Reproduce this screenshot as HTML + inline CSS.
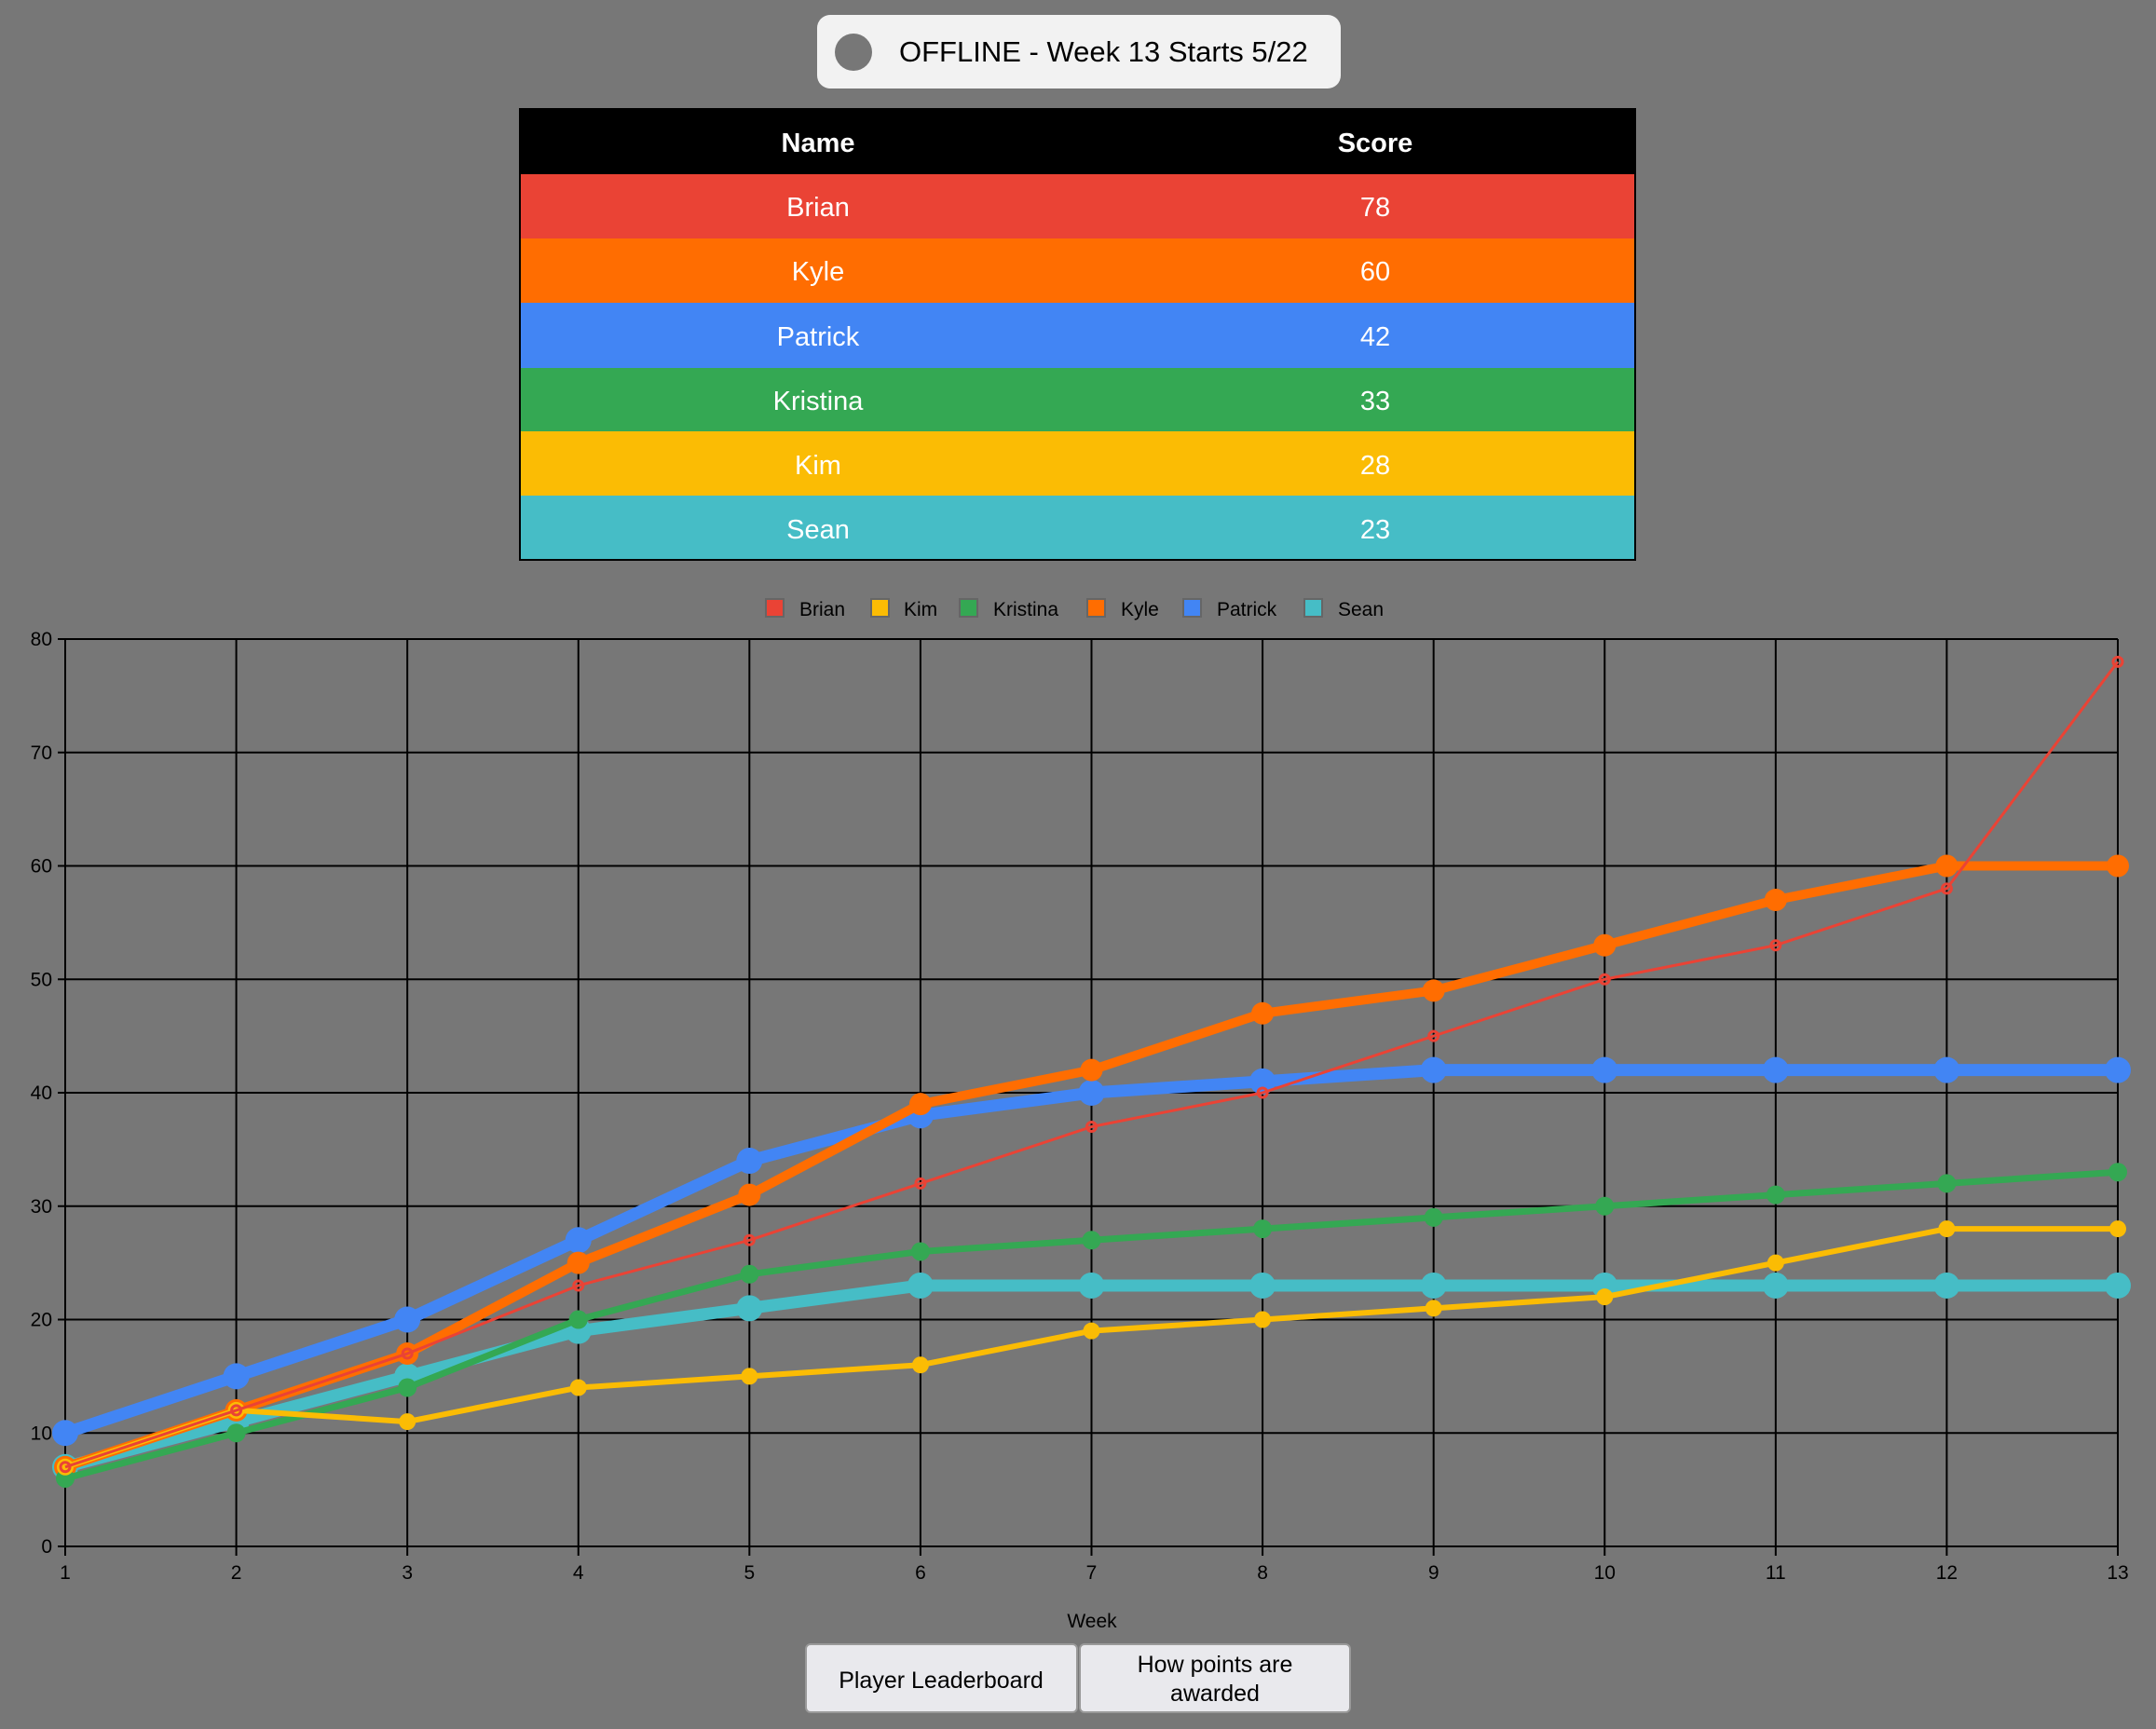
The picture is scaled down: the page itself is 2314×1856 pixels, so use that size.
<!DOCTYPE html>
<html><head><meta charset="utf-8"><style>
html,body{margin:0;padding:0;background:#777;width:2314px;height:1856px;overflow:hidden;font-family:"Liberation Sans",Arial,sans-serif}
</style></head><body>
<svg width="2314" height="1856" viewBox="0 0 2314 1856" xmlns="http://www.w3.org/2000/svg" font-family="Liberation Sans, Arial, sans-serif">
<rect width="2314" height="1856" fill="#777"/>
<rect x="877" y="16" width="562" height="79" rx="14" fill="#f2f2f2"/>
<circle cx="916" cy="56" r="20" fill="#777"/>
<text x="965" y="66" font-size="31" fill="#000">OFFLINE - Week 13 Starts 5/22</text>
<rect x="557" y="116" width="1199" height="486" fill="#000"/>
<rect x="559" y="187" width="1195" height="69" fill="#ea4335"/>
<rect x="559" y="256" width="1195" height="69" fill="#ff6d01"/>
<rect x="559" y="325" width="1195" height="70" fill="#4285f4"/>
<rect x="559" y="395" width="1195" height="68" fill="#34a853"/>
<rect x="559" y="463" width="1195" height="69" fill="#fbbc04"/>
<rect x="559" y="532" width="1195" height="68" fill="#46bdc6"/>
<g fill="#fff" font-size="29" text-anchor="middle">
<text x="878" y="163" font-weight="bold">Name</text><text x="1476" y="163" font-weight="bold">Score</text>
<text x="878" y="232">Brian</text><text x="1476" y="232">78</text>
<text x="878" y="301">Kyle</text><text x="1476" y="301">60</text>
<text x="878" y="371">Patrick</text><text x="1476" y="371">42</text>
<text x="878" y="440">Kristina</text><text x="1476" y="440">33</text>
<text x="878" y="509">Kim</text><text x="1476" y="509">28</text>
<text x="878" y="578">Sean</text><text x="1476" y="578">23</text>
</g>
<g font-size="21" fill="#000">
<rect x="822" y="643" width="19" height="19" fill="#ea4335" stroke="#666" stroke-width="2"/><text x="858" y="661">Brian</text>
<rect x="935" y="643" width="19" height="19" fill="#fbbc04" stroke="#666" stroke-width="2"/><text x="970" y="661">Kim</text>
<rect x="1030" y="643" width="19" height="19" fill="#34a853" stroke="#666" stroke-width="2"/><text x="1066" y="661">Kristina</text>
<rect x="1167" y="643" width="19" height="19" fill="#ff6d01" stroke="#666" stroke-width="2"/><text x="1203" y="661">Kyle</text>
<rect x="1270" y="643" width="19" height="19" fill="#4285f4" stroke="#666" stroke-width="2"/><text x="1306" y="661">Patrick</text>
<rect x="1400" y="643" width="19" height="19" fill="#46bdc6" stroke="#666" stroke-width="2"/><text x="1436" y="661">Sean</text>
</g>
<g id="grid" stroke="#000" stroke-width="2"></g>
<g id="labels" font-size="21" fill="#000"></g>
<g id="series"></g>
<text x="1172" y="1747" font-size="21" text-anchor="middle" fill="#000">Week</text>
<rect x="865" y="1765" width="291" height="73" rx="5" fill="#e9e9ed" stroke="#999" stroke-width="2"/>
<text x="1010" y="1812" font-size="25" text-anchor="middle" fill="#000">Player Leaderboard</text>
<rect x="1159" y="1765" width="290" height="73" rx="5" fill="#e9e9ed" stroke="#999" stroke-width="2"/>
<text x="1304" y="1795" font-size="25" text-anchor="middle" fill="#000">How points are</text>
<text x="1304" y="1826" font-size="25" text-anchor="middle" fill="#000">awarded</text>
</svg>
<script>
var L=70,R=2273,T=686,B=1660,ns="http://www.w3.org/2000/svg";
function X(i){return L+(R-L)*i/12}function Y(v){return B-(B-T)*v/80}
function el(p,t,a,txt){var e=document.createElementNS(ns,t);for(var k in a)e.setAttribute(k,a[k]);if(txt!=null)e.textContent=txt;p.appendChild(e);return e}
var g=document.getElementById("grid"),lb=document.getElementById("labels"),s=document.getElementById("series");
for(var i=0;i<13;i++){el(g,"line",{x1:X(i),x2:X(i),y1:T,y2:B+10});el(lb,"text",{x:X(i),y:B+35,"text-anchor":"middle"},i+1)}
for(var v=0;v<=80;v+=10){el(g,"line",{x1:L-8,x2:R,y1:Y(v),y2:Y(v)});el(lb,"text",{x:L-14,y:Y(v)+7,"text-anchor":"end"},v)}
var D=[
["#46bdc6",13,14,[7,11,15,19,21,23,23,23,23,23,23,23,23]],
["#4285f4",13,14,[10,15,20,27,34,38,40,41,42,42,42,42,42]],
["#ff6d01",10,12,[7,12,17,25,31,39,42,47,49,53,57,60,60]],
["#34a853",7,10,[6,10,14,20,24,26,27,28,29,30,31,32,33]],
["#fbbc04",6,9,[7,12,11,14,15,16,19,20,21,22,25,28,28]],
["#ea4335",3,6,[7,12,17,23,27,32,37,40,45,50,53,58,78]]];
D.forEach(function(d,j){var p=d[3].map(function(v,i){return X(i)+","+Y(v)}).join(" ");
el(s,"polyline",{points:p,fill:"none",stroke:d[0],"stroke-width":d[1],"stroke-linejoin":"round"});
d[3].forEach(function(v,i){if(j==5)el(s,"circle",{cx:X(i),cy:Y(v),r:5,fill:"none",stroke:d[0],"stroke-width":3});else el(s,"circle",{cx:X(i),cy:Y(v),r:d[2],fill:d[0]})})});
</script>
</body></html>
